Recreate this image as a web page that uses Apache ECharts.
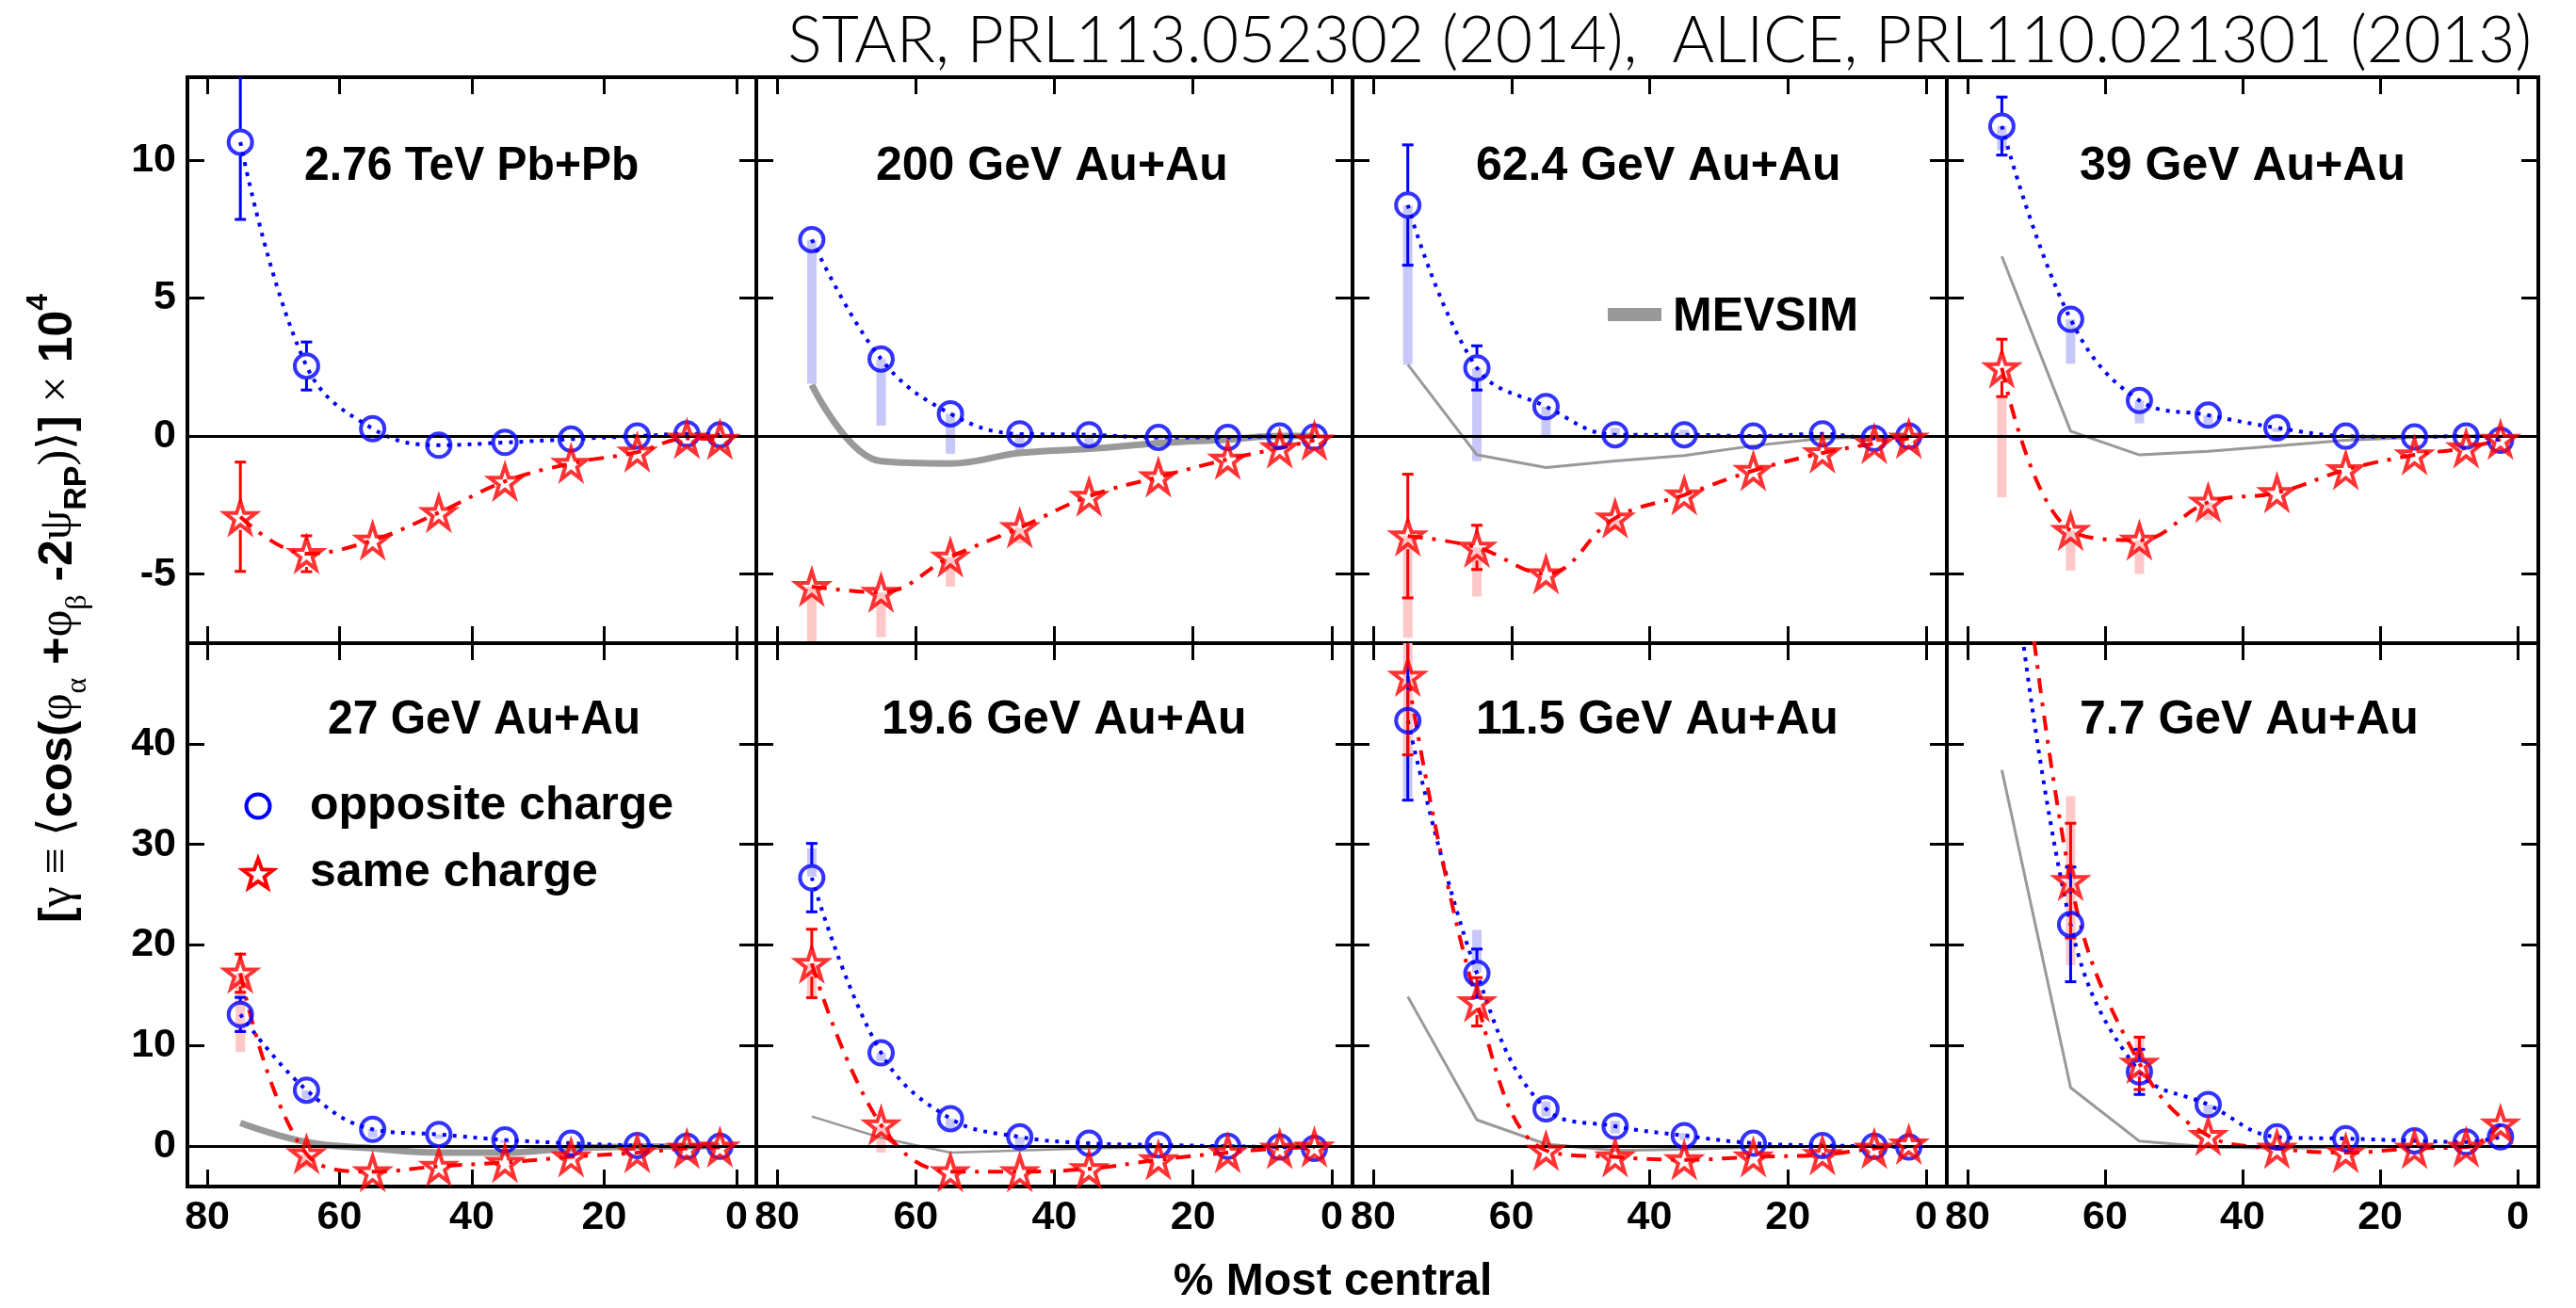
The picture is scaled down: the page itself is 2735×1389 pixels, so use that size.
<!DOCTYPE html>
<html>
<head>
<meta charset="utf-8">
<script src="https://cdn.jsdelivr.net/npm/echarts@6/dist/echarts.min.js"></script>
<style>
  html, body { margin: 0; padding: 0; background: #fff; }
  #chart { width: 2735px; height: 1389px; }
</style>
</head>
<body>
<div id="chart"></div>
<script>
// centrality bin centres (% most central)
var cent = [75, 65, 55, 45, 35, 25, 15, 7.5, 2.5];

var panelNames = ['2.76 TeV Pb+Pb', '200 GeV Au+Au', '62.4 GeV Au+Au', '39 GeV Au+Au',
                  '27 GeV Au+Au', '19.6 GeV Au+Au', '11.5 GeV Au+Au', '7.7 GeV Au+Au'];

var xTicks = [0, 20, 40, 60, 80];
var yTicksTop = [-5, 0, 5, 10];
var yTicksBottom = [0, 10, 20, 30, 40];

// opposite charge
var oppVal = [
  [10.65, 2.54, 0.27, -0.33, -0.23, -0.11, 0.0, 0.08, 0.05],
  [7.12, 2.79, 0.81, 0.08, 0.05, -0.05, -0.05, 0.0, -0.03],
  [8.37, 2.47, 1.07, 0.05, 0.05, 0.0, 0.08, -0.08, 0.0],
  [11.23, 4.23, 1.29, 0.76, 0.30, 0.0, -0.03, 0.0, -0.15],
  [13.1, 5.58, 1.69, 1.18, 0.63, 0.30, 0.08, 0.0, 0.0],
  [26.7, 9.29, 2.75, 0.93, 0.30, 0.13, 0.0, -0.08, -0.21],
  [42.3, 17.2, 3.72, 1.99, 1.06, 0.30, 0.08, 0.0, -0.08],
  [68, 22.05, 7.39, 4.14, 0.93, 0.76, 0.55, 0.42, 0.93]
];
var oppErr = [
  [2.8, 0.87, 0.15, 0.1, 0.08, 0.05, 0.04, 0.04, 0.04],
  [0.1, 0.08, 0.06, 0.05, 0.04, 0.03, 0.03, 0.03, 0.03],
  [2.18, 0.8, 0.3, 0.1, 0.08, 0.06, 0.05, 0.05, 0.05],
  [1.05, 0.3, 0.12, 0.08, 0.06, 0.05, 0.04, 0.04, 0.04],
  [1.7, 0.4, 0.2, 0.1, 0.08, 0.05, 0.04, 0.04, 0.04],
  [3.4, 0.6, 0.3, 0.15, 0.1, 0.06, 0.05, 0.05, 0.05],
  [7.9, 2.4, 0.6, 0.3, 0.15, 0.1, 0.08, 0.06, 0.06],
  [12, 5.7, 2.24, 0.6, 0.3, 0.2, 0.15, 0.1, 0.1]
];
var oppSys = [
  [null, null, null, null, null, null, null, null, null],
  [[1.9, 7.12], [0.38, 2.79], [-0.64, 0.81], [-0.68, 0.08], [-0.4, 0.05], [-0.25, -0.05], [-0.15, -0.05], null, null],
  [[2.59, 8.37], [-0.91, 2.47], [0.03, 1.07], [0.0, 0.3], [-0.05, 0.23], null, null, null, null],
  [[10.35, 11.23], [2.62, 4.23], [0.46, 1.29], [0.4, 0.76], [0.15, 0.3], null, null, null, null],
  [null, [4.7, 5.58], [0.85, 1.69], [0.75, 1.18], [0.3, 0.63], null, null, null, null],
  [[26.8, 29.6], [8.45, 9.29], [1.7, 2.75], [0.0, 0.93], null, null, null, null, null],
  [[34.6, 42.2], [17.24, 21.5], [2.96, 4.44], [1.27, 2.53], [0.6, 1.3], null, null, null, null],
  [null, [21, 22.05], [6.8, 7.39], [2.96, 4.14], null, null, null, null, null]
];

// same charge
var sameVal = [
  [-2.92, -4.26, -3.77, -2.77, -1.64, -0.99, -0.58, -0.08, -0.12],
  [-5.45, -5.66, -4.38, -3.32, -2.18, -1.48, -0.84, -0.43, -0.15],
  [-3.62, -4.03, -4.99, -2.97, -2.13, -1.25, -0.61, -0.27, -0.08],
  [2.47, -3.42, -3.77, -2.40, -2.05, -1.22, -0.68, -0.43, -0.12],
  [17.2, -0.76, -2.53, -1.99, -1.61, -1.06, -0.63, -0.21, -0.08],
  [18.17, 2.11, -2.53, -2.53, -2.24, -1.35, -0.63, -0.21, -0.08],
  [46.7, 14.36, -0.42, -1.06, -1.35, -1.06, -0.84, -0.21, 0.21],
  [80, 26.4, 8.24, 1.06, -0.21, -0.63, -0.21, -0.08, 2.2]
];
var sameErr = [
  [1.98, 0.65, 0.2, 0.12, 0.1, 0.07, 0.05, 0.05, 0.05],
  [0.15, 0.12, 0.1, 0.08, 0.06, 0.05, 0.04, 0.04, 0.04],
  [2.24, 0.8, 0.3, 0.12, 0.08, 0.06, 0.05, 0.05, 0.05],
  [1.04, 0.35, 0.15, 0.1, 0.08, 0.06, 0.05, 0.05, 0.05],
  [1.9, 0.4, 0.2, 0.12, 0.1, 0.06, 0.05, 0.05, 0.05],
  [3.4, 0.7, 0.3, 0.15, 0.1, 0.06, 0.05, 0.05, 0.05],
  [7.8, 2.4, 0.6, 0.3, 0.15, 0.1, 0.08, 0.06, 0.06],
  [15, 5.7, 2.6, 0.7, 0.3, 0.2, 0.15, 0.1, 0.1]
];
var sameSys = [
  [null, null, null, null, null, null, null, null, null],
  [[-7.43, -5.45], [-7.28, -5.66], [-5.45, -4.38], [-3.88, -3.32], null, null, null, null, null],
  [[-7.3, -3.62], [-5.81, -4.03], null, [-3.4, -2.97], null, null, null, null, null],
  [[-2.21, 1.37], [-4.87, -3.42], [-4.99, -3.77], [-3.04, -2.40], null, null, null, null, null],
  [[9.38, 17.2], [-2.1, -0.76], null, null, null, null, null, null, null],
  [[14.6, 18.17], [-0.63, 2.11], null, null, null, null, null, null, null],
  [[38.9, 50], null, null, null, null, null, null, null, null],
  [null, [18, 34.8], [8.24, 11.0], null, null, null, null, null, null]
];

// MEVSIM background model
var mevsim = [
  null,
  [1.86, -0.91, -0.99, -0.61, -0.46, -0.26, -0.12, 0.0, 0.0],
  [2.59, -0.68, -1.14, -0.9, -0.7, -0.35, -0.08, -0.03, 0.0],
  [6.51, 0.18, -0.68, -0.55, -0.35, -0.15, -0.05, 0.0, 0.0],
  [2.32, 0.42, -0.21, -0.63, -0.63, -0.2, -0.05, 0.0, 0.0],
  [2.96, 0.84, -0.63, -0.42, -0.2, -0.1, 0.0, 0.0, 0.0],
  [14.87, 2.62, 0.21, -0.42, -0.3, -0.1, 0.0, 0.0, 0.0],
  [37.4, 5.83, 0.51, -0.08, -0.2, -0.1, 0.0, 0.0, 0.0]
];
var mevsimWidth = [0, 7, 3, 3, 7, 2.5, 3, 3];

// layout
var colLeft = [199, 803, 1436, 2067];
var colRight = [803, 1436, 2067, 2695];
var rowTop = [82, 683];
var rowBottom = [683, 1260];
var yRange = [[-7.5, 13], [-4, 50]];
var labelPos = [[323, 177], [930, 177], [1567, 177], [2208, 177],
                [348, 765], [936, 765], [1567, 765], [2208, 765]];

var FONT = '"Liberation Sans", Arial, Helvetica, sans-serif';
var BLUE = '#0000ff', RED = '#ff0000';
var SYS_BLUE = '#c8c8f8', SYS_RED = '#ffc8c8';
var STAR = 'path://M50,0 L61.8,35.1 L98.6,35.1 L68.7,57 L79.9,91.9 L50,70 L20.1,91.9 L31.3,57 L1.4,35.1 L38.2,35.1 Z';

function pairs(vals) {
  return cent.map(function (c, k) { return [c, vals[k]]; });
}
function errItems(vals, errs) {
  return cent.map(function (c, k) { return [c, vals[k], errs[k]]; });
}
function sysItems(sys) {
  var out = [];
  cent.forEach(function (c, k) { if (sys[k]) out.push([c, sys[k][0], sys[k][1]]); });
  return out;
}

function errRender(color) {
  return function (params, api) {
    var x = api.value(0), v = api.value(1), e = api.value(2);
    var pc = api.coord([x, v]);
    var ph = api.coord([x, v + e]);
    var pl = api.coord([x, v - e]);
    var r = 14, cw = 6, lw = 3;
    var kids = [];
    if (pc[1] - ph[1] > r) {
      kids.push({ type: 'line', shape: { x1: pc[0], y1: ph[1], x2: pc[0], y2: pc[1] - r }, style: { stroke: color, lineWidth: lw } });
      kids.push({ type: 'line', shape: { x1: pc[0] - cw, y1: ph[1], x2: pc[0] + cw, y2: ph[1] }, style: { stroke: color, lineWidth: lw } });
    }
    if (pl[1] - pc[1] > r) {
      kids.push({ type: 'line', shape: { x1: pc[0], y1: pc[1] + r, x2: pc[0], y2: pl[1] }, style: { stroke: color, lineWidth: lw } });
      kids.push({ type: 'line', shape: { x1: pc[0] - cw, y1: pl[1], x2: pc[0] + cw, y2: pl[1] }, style: { stroke: color, lineWidth: lw } });
    }
    return { type: 'group', children: kids };
  };
}

function sysRender(color) {
  return function (params, api) {
    var x = api.value(0);
    var p1 = api.coord([x, api.value(2)]);
    var p2 = api.coord([x, api.value(1)]);
    return { type: 'rect', shape: { x: p1[0] - 5, y: p1[1], width: 10, height: p2[1] - p1[1] }, style: { fill: color } };
  };
}

var grids = [], xAxes = [], yAxes = [], series = [], graphics = [];

for (var i = 0; i < 8; i++) {
  var row = i < 4 ? 0 : 1, col = i % 4;
  grids.push({
    left: colLeft[col], top: rowTop[row],
    width: colRight[col] - colLeft[col], height: rowBottom[row] - rowTop[row],
    show: true, borderColor: '#000', borderWidth: 4, backgroundColor: 'rgba(0,0,0,0)',
    containLabel: false, outerBoundsMode: 'none'
  });
  var yt = row === 0 ? yTicksTop : yTicksBottom;
  ['bottom', 'top'].forEach(function (pos) {
    xAxes.push({
      gridIndex: i, type: 'value', position: pos, min: -3, max: 83, inverse: true,
      axisLine: { show: false, onZero: false }, splitLine: { show: false },
      axisTick: { show: true, inside: true, length: 18, customValues: xTicks, lineStyle: { color: '#000', width: 3 } },
      axisLabel: { show: pos === 'bottom' && row === 1, customValues: xTicks, margin: 12, color: '#000',
                   fontFamily: FONT, fontWeight: 'bold', fontSize: 43 }
    });
  });
  ['left', 'right'].forEach(function (pos) {
    yAxes.push({
      gridIndex: i, type: 'value', position: pos, min: yRange[row][0], max: yRange[row][1],
      axisLine: { show: false, onZero: false }, splitLine: { show: false },
      axisTick: { show: true, inside: true, length: 18, customValues: yt, lineStyle: { color: '#000', width: 3 } },
      axisLabel: { show: pos === 'left' && col === 0, customValues: yt, margin: 12, color: '#000',
                   fontFamily: FONT, fontWeight: 'bold', fontSize: 43 }
    });
  });

  var xi = 2 * i, yi = 2 * i;

  series.push({
    type: 'custom', xAxisIndex: xi, yAxisIndex: yi, clip: true, z: 2, silent: true,
    renderItem: sysRender(SYS_BLUE), data: sysItems(oppSys[i])
  });
  series.push({
    type: 'custom', xAxisIndex: xi, yAxisIndex: yi, clip: true, z: 2, silent: true,
    renderItem: sysRender(SYS_RED), data: sysItems(sameSys[i])
  });
  if (mevsim[i]) {
    series.push({
      type: 'line', xAxisIndex: xi, yAxisIndex: yi, z: 3, silent: true,
      showSymbol: false, smooth: mevsimWidth[i] > 5 ? 0.4 : false,
      lineStyle: { color: '#999999', width: mevsimWidth[i] },
      data: pairs(mevsim[i])
    });
  }
  series.push({
    type: 'line', xAxisIndex: xi, yAxisIndex: yi, z: 4, silent: true,
    showSymbol: false, smooth: 0.4,
    lineStyle: { color: BLUE, width: 4, type: [4, 7] },
    data: pairs(oppVal[i]),
    markLine: {
      silent: true, symbol: ['none', 'none'], label: { show: false },
      lineStyle: { color: '#000', width: 3, type: 'solid' },
      data: [{ yAxis: 0 }]
    }
  });
  series.push({
    type: 'line', xAxisIndex: xi, yAxisIndex: yi, z: 4, silent: true,
    showSymbol: false, smooth: 0.4,
    lineStyle: { color: RED, width: 4, type: [16, 10, 4, 10] },
    data: pairs(sameVal[i])
  });
  series.push({
    type: 'custom', xAxisIndex: xi, yAxisIndex: yi, clip: true, z: 5, silent: true,
    renderItem: errRender(BLUE), data: errItems(oppVal[i], oppErr[i])
  });
  series.push({
    type: 'custom', xAxisIndex: xi, yAxisIndex: yi, clip: true, z: 5, silent: true,
    renderItem: errRender(RED), data: errItems(sameVal[i], sameErr[i])
  });
  series.push({
    type: 'scatter', xAxisIndex: xi, yAxisIndex: yi, z: 6, silent: true, clip: true,
    symbol: 'circle', symbolSize: 25,
    itemStyle: { color: 'rgba(0,0,0,0)', borderColor: BLUE, borderWidth: 4 },
    data: pairs(oppVal[i])
  });
  series.push({
    type: 'scatter', xAxisIndex: xi, yAxisIndex: yi, z: 6, silent: true, clip: true,
    symbol: STAR, symbolSize: 33,
    itemStyle: { color: 'rgba(0,0,0,0)', borderColor: RED, borderWidth: 4 },
    data: pairs(sameVal[i])
  });

  graphics.push({
    type: 'text', x: labelPos[i][0], y: labelPos[i][1], z: 100, silent: true,
    scaleX: col === 0 ? 0.96 : 1,
    style: { text: panelNames[i], fill: '#000', font: 'bold 50px ' + FONT, verticalAlign: 'middle' }
  });
}

// header
graphics.push({
  type: 'text', x: 2688, y: 44, z: 100, silent: true,
  style: { text: 'STAR, PRL113.052302 (2014),  ALICE, PRL110.021301 (2013)', fill: '#000',
           font: '300 68px Lato, "Liberation Sans", sans-serif', align: 'right', verticalAlign: 'middle' }
});
// x title
graphics.push({
  type: 'text', x: 1415, y: 1362, z: 100, silent: true,
  style: { text: '% Most central', fill: '#000', font: 'bold 48px ' + FONT, align: 'center', verticalAlign: 'middle' }
});
// y title
graphics.push({
  type: 'text', x: 62, y: 646, rotation: Math.PI / 2, z: 100, silent: true,
  style: {
    text: '{b|[}{g|γ ≡ ⟨}{b|cos(}{g|φ}{s|α}{b| +}{g|φ}{s|β}{b| -2}{g|ψ}{sb|RP}{g|)⟩}{b|] }{g|×}{b| 10}{sp|4}',
    align: 'center', verticalAlign: 'middle', fill: '#000',
    rich: {
      b: { fontFamily: FONT, fontWeight: 'bold', fontSize: 50, lineHeight: 74, verticalAlign: 'middle' },
      g: { fontFamily: '"Liberation Serif", serif', fontSize: 50, lineHeight: 74, verticalAlign: 'middle' },
      s: { fontFamily: '"Liberation Serif", serif', fontSize: 32, lineHeight: 32, verticalAlign: 'bottom' },
      sb: { fontFamily: FONT, fontWeight: 'bold', fontSize: 34, lineHeight: 32, verticalAlign: 'bottom' },
      sp: { fontFamily: FONT, fontWeight: 'bold', fontSize: 32, lineHeight: 32, verticalAlign: 'top' }
    }
  }
});
// MEVSIM legend
graphics.push({ type: 'rect', z: 100, silent: true, shape: { x: 1707, y: 327, width: 57, height: 14 }, style: { fill: '#999999' } });
graphics.push({
  type: 'text', x: 1776, y: 337, z: 100, silent: true,
  style: { text: 'MEVSIM', fill: '#000', font: 'bold 50px ' + FONT, verticalAlign: 'middle' }
});
// charge legend
graphics.push({ type: 'circle', z: 100, silent: true, shape: { cx: 274, cy: 856, r: 12.5 }, style: { fill: 'none', stroke: BLUE, lineWidth: 4 } });
var starPts = [];
for (var k = 0; k < 10; k++) {
  var rr = k % 2 === 0 ? 17 : 7, a = -Math.PI / 2 + k * Math.PI / 5;
  starPts.push([274 + rr * Math.cos(a), 929 + rr * Math.sin(a)]);
}
graphics.push({ type: 'polygon', z: 100, silent: true, shape: { points: starPts }, style: { fill: 'none', stroke: RED, lineWidth: 4 } });
graphics.push({
  type: 'text', x: 329, y: 856, z: 100, silent: true,
  style: { text: 'opposite charge', fill: '#000', font: 'bold 50px ' + FONT, verticalAlign: 'middle' }
});
graphics.push({
  type: 'text', x: 329, y: 927, z: 100, silent: true,
  style: { text: 'same charge', fill: '#000', font: 'bold 50px ' + FONT, verticalAlign: 'middle' }
});

var chart = echarts.init(document.getElementById('chart'), null, { renderer: 'canvas' });
chart.setOption({
  animation: false,
  backgroundColor: '#ffffff',
  grid: grids,
  xAxis: xAxes,
  yAxis: yAxes,
  series: series,
  graphic: graphics
});
</script>
</body>
</html>
